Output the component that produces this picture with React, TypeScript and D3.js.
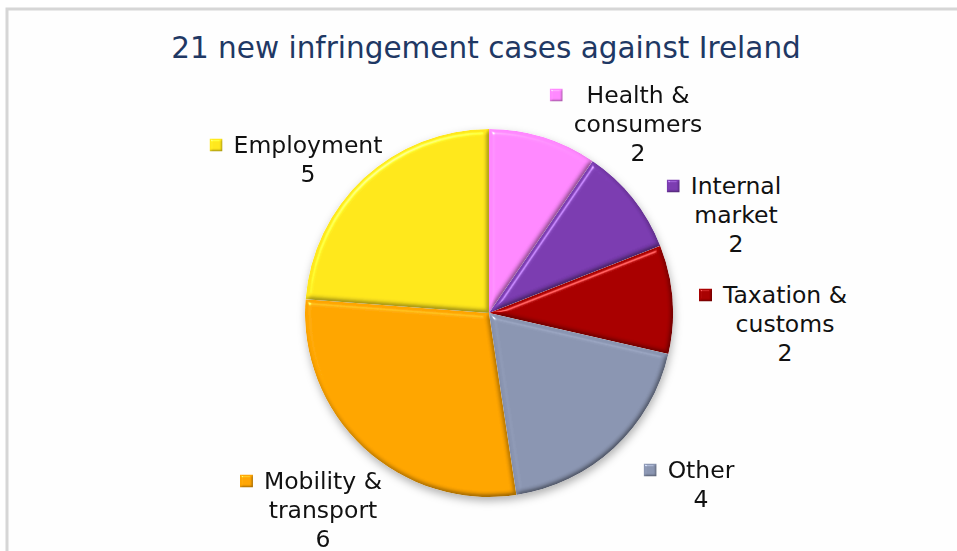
import React, { useEffect, useRef } from 'react';
import * as d3 from 'd3';

// Chart data
const categories = ["Health & consumers", "Internal market", "Taxation & customs", "Other", "Mobility & transport", "Employment"];
const caseCounts = [2, 2, 2, 4, 6, 5];
const labelLines = [
  ["Health &", "consumers"],
  ["Internal", "market"],
  ["Taxation &", "customs"],
  ["Other"],
  ["Mobility &", "transport"],
  ["Employment"],
];
const sliceColors = ["#ff88ff", "#7a3bb0", "#a80000", "#8a95b1", "#ffa503", "#ffe71c"];
const chartTitle = "21 new infringement cases against Ireland";

const W = 957;
const H = 551;

const App: React.FC = () => {
  const ref = useRef<SVGSVGElement>(null);

  useEffect(() => {
    if (!ref.current) return;
    const svg = d3.select(ref.current);
    svg.selectAll("*").remove();

    const defs = svg.append("defs");

    // bevel look for the slices
    const makeBevel = (id: string, blur: number, scale: number) => {
      const f = defs.append("filter").attr("id", id)
        .attr("color-interpolation-filters", "sRGB")
        .attr("x", "-10%").attr("y", "-10%").attr("width", "120%").attr("height", "120%");
      f.append("feGaussianBlur").attr("in", "SourceAlpha").attr("stdDeviation", blur).attr("result", "blur");
      const spec = f.append("feSpecularLighting")
        .attr("in", "blur").attr("surfaceScale", scale)
        .attr("specularConstant", 0.8).attr("specularExponent", 40)
        .attr("lighting-color", "#ffffff").attr("result", "spec");
      spec.append("feDistantLight").attr("azimuth", 235).attr("elevation", 40);
      f.append("feComposite").attr("in", "spec").attr("in2", "SourceAlpha").attr("operator", "in").attr("result", "specOut");
      // slightly darker rim on the far side
      const diff = f.append("feDiffuseLighting")
        .attr("in", "blur").attr("surfaceScale", scale * 0.5).attr("diffuseConstant", 1)
        .attr("lighting-color", "#ffffff").attr("result", "diff");
      diff.append("feDistantLight").attr("azimuth", 235).attr("elevation", 65);
      f.append("feComponentTransfer").attr("in", "diff").attr("result", "diffAdj")
        .call(ct => {
          ["feFuncR", "feFuncG", "feFuncB"].forEach(fn =>
            ct.append(fn).attr("type", "linear").attr("slope", 1 / Math.sin(65 * Math.PI / 180)).attr("intercept", 0));
        });
      f.append("feComposite").attr("in", "SourceGraphic").attr("in2", "diffAdj")
        .attr("operator", "arithmetic").attr("k1", 1).attr("k2", 0).attr("k3", 0).attr("k4", 0)
        .attr("result", "shaded");
      f.append("feComposite").attr("in", "shaded").attr("in2", "SourceAlpha").attr("operator", "in").attr("result", "shadedIn");
      f.append("feComposite").attr("in", "shadedIn").attr("in2", "specOut")
        .attr("operator", "arithmetic").attr("k1", 0).attr("k2", 1).attr("k3", 0.6).attr("k4", 0);
    };
    makeBevel("bevel", 2.5, 4);
    makeBevel("bevel-small", 1, 2);

    const shadow = defs.append("filter").attr("id", "pie-shadow")
      .attr("x", "-20%").attr("y", "-20%").attr("width", "140%").attr("height", "140%");
    shadow.append("feDropShadow").attr("dx", 1).attr("dy", 4).attr("stdDeviation", 4)
      .attr("flood-color", "#000").attr("flood-opacity", 0.3);

    // frame
    svg.append("rect")
      .attr("x", 7).attr("y", 9)
      .attr("width", W + 20).attr("height", H + 20)
      .attr("fill", "#fefefe")
      .attr("stroke", "#d6d6d6")
      .attr("stroke-width", 3);

    // title
    svg.append("text")
      .attr("x", 486)
      .attr("y", 58)
      .attr("text-anchor", "middle")
      .style("font-family", "'DejaVu Sans', Verdana, sans-serif")
      .style("font-size", "29.5px")
      .style("fill", "#1f3864")
      .text(chartTitle);

    const cx = 489;
    const cy = 313;
    const radius = 184;

    const pie = d3.pie<number>().sort(null).value(d => d);
    const arcs = pie(caseCounts);
    const arc = d3.arc<d3.PieArcDatum<number>>().innerRadius(0).outerRadius(radius);

    const pieG = svg.append("g")
      .attr("transform", `translate(${cx},${cy})`)
      .attr("filter", "url(#pie-shadow)");

    pieG.selectAll("path")
      .data(arcs)
      .enter()
      .append("path")
      .attr("d", arc)
      .attr("fill", (_, i) => sliceColors[i])
      .attr("filter", "url(#bevel)");

    // data labels: offsets of the label block from the pie centre
    const labelOffsets: [number, number][] = [
      [149, -210],
      [247, -119],
      [296, -10],
      [212, 165],
      [-166, 176],
      [-181, -160],
    ];
    const lineH = 29;

    const labels = svg.append("g")
      .style("font-family", "'DejaVu Sans', Verdana, sans-serif")
      .style("font-size", "23.5px")
      .style("fill", "#111");

    arcs.forEach((a, i) => {
      const [ox, oy] = labelOffsets[i];
      const lx = cx + ox;
      const ly = cy + oy;
      const g = labels.append("g");
      const lines = [...labelLines[i], String(a.data)];
      let maxW = 0;
      lines.forEach((t, j) => {
        const tx = g.append("text")
          .attr("x", lx)
          .attr("y", ly + j * lineH)
          .attr("text-anchor", "middle")
          .text(t);
        const w = (tx.node() as SVGTextElement).getComputedTextLength();
        if (w > maxW) maxW = w;
      });
      const m = 13;
      g.append("rect")
        .attr("x", lx - maxW / 2 - 11 - m)
        .attr("y", ly - 8 - m / 2)
        .attr("width", m)
        .attr("height", m)
        .attr("fill", sliceColors[i])
        .attr("filter", "url(#bevel-small)");
    });
  }, []);

  return (
    <svg
      ref={ref}
      width={W}
      height={H}
      style={{ position: 'absolute', left: 0, top: 0, display: 'block', background: '#fff' }}
    />
  );
};

export default App;
